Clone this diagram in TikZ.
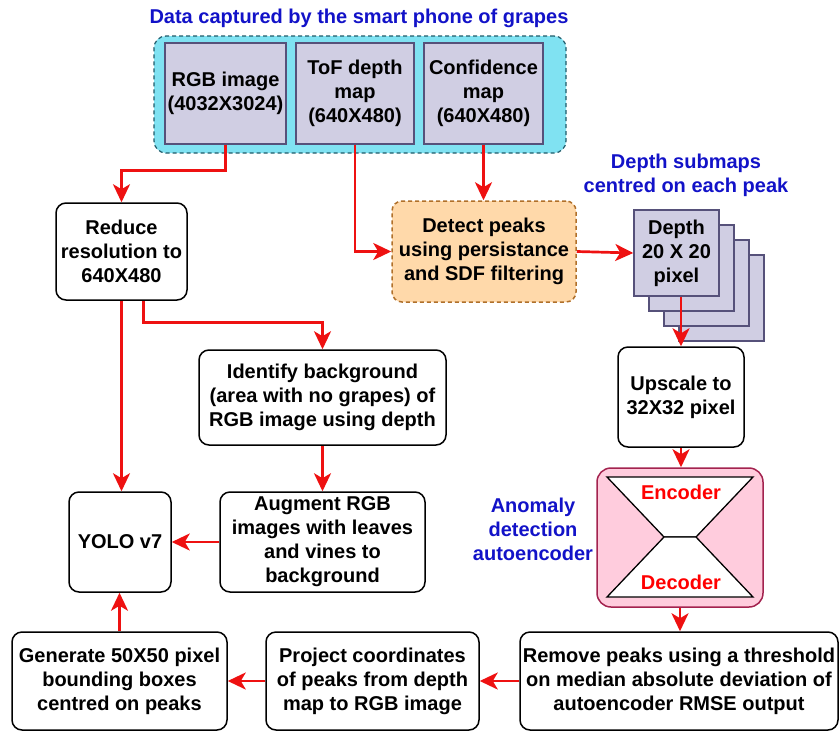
\documentclass[tikz,border=0pt]{standalone}
\usepackage{fontspec}
\setmainfont{Liberation Sans}
\usetikzlibrary{arrows.meta}
\definecolor{noteblue}{RGB}{18,18,200}
\definecolor{linkred}{RGB}{238,17,17}
\definecolor{datafill}{RGB}{128,226,242}
\definecolor{dataline}{RGB}{30,90,105}
\definecolor{srcfill}{RGB}{208,206,227}
\definecolor{srcline}{RGB}{86,81,122}
\definecolor{peakfill}{RGB}{255,217,170}
\definecolor{peakline}{RGB}{176,112,42}
\definecolor{aefill}{RGB}{255,204,221}
\definecolor{aeline}{RGB}{163,35,79}
\begin{document}
\begin{tikzpicture}[x=1pt,y=-1pt,
  txt/.style={font=\bfseries\fontsize{20}{24}\selectfont,align=center,inner sep=2pt},
  box/.style={txt,draw,rounded corners=10pt,line width=1.5pt,fill=white},
  src/.style={txt,draw=srcline,fill=srcfill,line width=1.5pt},
  sub/.style={draw=srcline,fill=srcfill,line width=1.5pt,minimum width=85,minimum height=86},
  note/.style={txt,text=noteblue},
  link/.style={draw=linkred,line width=2.7pt,>={Stealth[length=18pt,width=17pt,inset=5pt]},->}]
\path[use as bounding box] (0,0) rectangle (840,731);
\node[note] (title) at (359,18) {Data captured by the smart phone of grapes};
\node[draw=dataline,fill=datafill,line width=1.2pt,dash pattern=on 4pt off 3pt,rounded corners=12pt,minimum width=412,minimum height=117] (data) at (360,94.5) {};
\node[src,minimum width=121,minimum height=101] (rgb) at (225.5,93.5) {RGB image\\(4032X3024)};
\node[src,minimum width=118,minimum height=101] (tof) at (355,93.5) {ToF depth\\map\\(640X480)};
\node[src,minimum width=119,minimum height=101] (conf) at (483.5,93.5) {Confidence\\map\\(640X480)};
\node[box,minimum width=131,minimum height=97] (reduce) at (121.5,251.5) {Reduce\\resolution to\\640X480};
\node[box,fill=peakfill,draw=peakline,dash pattern=on 4pt off 3pt,minimum width=184,minimum height=101] (detect) at (484,251.5) {Detect peaks\\using persistance\\and SDF filtering};
\node[note] (subnote) at (686,175) {Depth submaps\\centred on each peak};
\foreach \k in {3,2,1}
  \node[sub] (d\k) at ({676.5+15*\k},{253+15*\k}) {};
\node[sub,txt] (d0) at (676.5,253) {Depth\\20 X 20\\pixel};
\node[box,minimum width=126,minimum height=100] (upscale) at (681,397) {Upscale to\\32X32 pixel};
\node[draw=aeline,fill=aefill,line width=1.5pt,rounded corners=14pt,minimum width=166,minimum height=139] (ae) at (680,537.5) {};
\draw[fill=white,line width=1.3pt] (607,477) -- (753,477) -- (696,537) -- (664,537) -- cycle;
\draw[fill=white,line width=1.3pt] (607,597) -- (753,597) -- (696,537) -- (664,537) -- cycle;
\node[txt,text=red] (enc) at (681,492) {Encoder};
\node[txt,text=red] (dec) at (681,582) {Decoder};
\node[note] (aenote) at (533,529) {Anomaly\\detection\\autoencoder};
\node[box,minimum width=318,minimum height=98] (remove) at (679,681) {Remove peaks using a threshold\\on median absolute deviation of\\autoencoder RMSE output};
\node[box,minimum width=213,minimum height=98] (project) at (372.5,681) {Project coordinates\\of peaks from depth\\map to RGB image};
\node[box,minimum width=215,minimum height=98] (generate) at (119.5,681) {Generate 50X50 pixel\\bounding boxes\\centred on peaks};
\node[box,minimum width=102,minimum height=100] (yolo) at (120,542) {YOLO v7};
\node[box,minimum width=247,minimum height=95] (identify) at (322.5,397.5) {Identify background\\(area with no grapes) of\\RGB image using depth};
\node[box,minimum width=205,minimum height=100] (augment) at (322.5,542) {Augment RGB\\images with leaves\\and vines to\\background};
\draw[link] (rgb.south) -- ++(0,26) -| (reduce.north);
\draw[link] (tof.south) |- (detect.west);
\draw[link] (conf.south) -- (conf.south |- detect.north);
\draw[link] (detect.east) -- (d0.west);
\draw[link] (upscale.north |- d0.south) -- (upscale.north);
\draw[link] (upscale.south) -- (upscale.south |- ae.north);
\draw[link] (ae.south) -- (ae.south |- remove.north);
\draw[link] (remove.west) -- (project.east);
\draw[link] (project.west) -- (generate.east);
\draw[link] (generate.north) -- (generate.north |- yolo.south);
\draw[link] (reduce.south) -- (reduce.south |- yolo.north);
\draw[link] ([xshift=22pt]reduce.south) -- ++(0,22) -| (identify.north);
\draw[link] (identify.south) -- (augment.north);
\draw[link] (augment.west) -- (yolo.east);
\end{tikzpicture}
\end{document}
